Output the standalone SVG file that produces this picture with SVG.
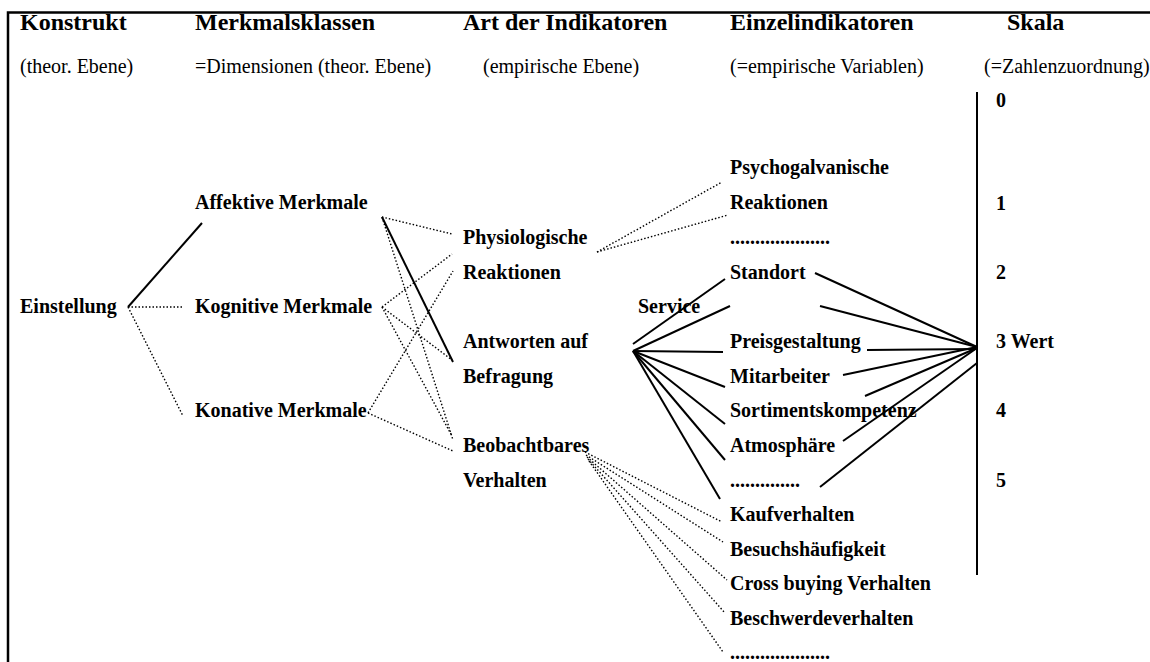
<svg xmlns="http://www.w3.org/2000/svg" width="1150" height="662" viewBox="0 0 1150 662">
<style>
.h{font-family:"Liberation Serif",serif;font-weight:bold;font-size:24px;fill:#000}
.s{font-family:"Liberation Serif",serif;font-size:20px;fill:#000}
.n{font-family:"Liberation Serif",serif;font-weight:bold;font-size:20px;fill:#000}
.solid{stroke:#000;stroke-width:2;fill:none}
.dot{stroke:#000;stroke-width:1.4;stroke-dasharray:1.5 2;fill:none}
.frame{stroke:#000;stroke-width:2.5;fill:none}
</style>
<rect width="1150" height="662" fill="#fff"/>
<g id="frame">
<path class="frame" d="M8,662 V12.5 H1150"/>
<path class="solid" d="M977,92 V575"/>
</g>
<g id="headers">
<text class="h" x="20" y="30">Konstrukt</text>
<text class="h" x="195" y="30">Merkmalsklassen</text>
<text class="h" x="463" y="30">Art der Indikatoren</text>
<text class="h" x="730" y="30">Einzelindikatoren</text>
<text class="h" x="1007" y="30">Skala</text>
<text class="s" x="20" y="73">(theor. Ebene)</text>
<text class="s" x="195" y="73">=Dimensionen (theor. Ebene)</text>
<text class="s" x="483" y="73">(empirische Ebene)</text>
<text class="s" x="730" y="73">(=empirische Variablen)</text>
<text class="s" x="984" y="73">(=Zahlenzuordnung)</text>
</g>
<g id="connectors">
<path class="solid" d="M128,307 L202,223"/>
<path class="dot" d="M128,307 L183,307"/>
<path class="dot" d="M128,307 L183,416"/>
<path class="dot" d="M382,217 L452,234"/>
<path class="solid" d="M382,217 L453,362"/>
<path class="dot" d="M382,217 L453,440"/>
<path class="dot" d="M382,307 L452,254"/>
<path class="dot" d="M382,307 L452,360"/>
<path class="dot" d="M382,307 L452,436"/>
<path class="dot" d="M368,413 L453,271"/>
<path class="dot" d="M368,413 L453,451"/>
<path class="dot" d="M597,252 L722,182"/>
<path class="dot" d="M597,252 L728,215"/>
<path class="solid" d="M633,344 L725,279"/>
<path class="solid" d="M633,351 L730,306"/>
<path class="solid" d="M633,351 L723,352"/>
<path class="solid" d="M633,351 L725,387"/>
<path class="solid" d="M633,351 L725,424"/>
<path class="solid" d="M633,351 L725,460"/>
<path class="solid" d="M633,351 L720,499"/>
<path class="solid" d="M815,273 L977,347"/>
<path class="solid" d="M820,306 L977,347"/>
<path class="solid" d="M867,350 L977,349"/>
<path class="solid" d="M843,375 L977,347"/>
<path class="solid" d="M865,396 L977,348"/>
<path class="solid" d="M843,441 L977,348"/>
<path class="solid" d="M820,487 L977,363"/>
<path class="dot" d="M585,452 L722,522"/>
<path class="dot" d="M586,455 L723,542"/>
<path class="dot" d="M587,457 L727,580"/>
<path class="dot" d="M588,459 L725,613"/>
<path class="dot" d="M589,461 L723,652"/>
</g>
<g id="einstellung"><text class="n" x="20" y="313">Einstellung</text></g>
<g id="affektive"><text class="n" x="195" y="209">Affektive Merkmale</text></g>
<g id="kognitive"><text class="n" x="195" y="313">Kognitive Merkmale</text></g>
<g id="konative"><text class="n" x="195" y="417">Konative Merkmale</text></g>
<g id="physiologische"><text class="n" x="463" y="244">Physiologische</text><text class="n" x="463" y="279">Reaktionen</text></g>
<g id="antworten"><text class="n" x="463" y="348">Antworten auf</text><text class="n" x="463" y="383">Befragung</text></g>
<g id="beobachtbares"><text class="n" x="463" y="452">Beobachtbares</text><text class="n" x="463" y="487">Verhalten</text></g>
<g id="service"><text class="n" x="638" y="313">Service</text></g>
<g id="psychogalvanische"><text class="n" x="730" y="174">Psychogalvanische</text><text class="n" x="730" y="209">Reaktionen</text></g>
<g id="dots1"><text class="n" x="730" y="244">....................</text></g>
<g id="standort"><text class="n" x="730" y="279">Standort</text></g>
<g id="preisgestaltung"><text class="n" x="730" y="348">Preisgestaltung</text></g>
<g id="mitarbeiter"><text class="n" x="730" y="383">Mitarbeiter</text></g>
<g id="sortiment"><text class="n" x="730" y="417">Sortimentskompetenz</text></g>
<g id="atmosphaere"><text class="n" x="730" y="452">Atmosphäre</text></g>
<g id="dots2"><text class="n" x="730" y="487">..............</text></g>
<g id="kaufverhalten"><text class="n" x="730" y="521">Kaufverhalten</text></g>
<g id="besuch"><text class="n" x="730" y="556">Besuchshäufigkeit</text></g>
<g id="cross"><text class="n" x="730" y="590">Cross buying Verhalten</text></g>
<g id="beschwerde"><text class="n" x="730" y="625">Beschwerdeverhalten</text></g>
<g id="dots3"><text class="n" x="730" y="659">....................</text></g>
<g id="scale">
<text class="n" x="996" y="107">0</text>
<text class="n" x="996" y="210">1</text>
<text class="n" x="996" y="279">2</text>
<text class="n" x="996" y="348">3 Wert</text>
<text class="n" x="996" y="417">4</text>
<text class="n" x="996" y="487">5</text>
</g>
</svg>
